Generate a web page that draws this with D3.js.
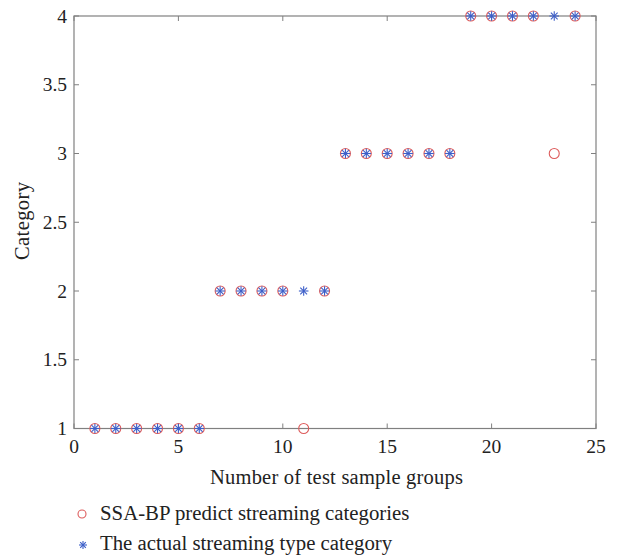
<!DOCTYPE html>
<html>
<head>
<meta charset="utf-8">
<script src="https://cdn.jsdelivr.net/npm/d3@7"></script>
<style>
  body { margin: 0; background: #fff; }
  svg text { font-family: "Liberation Serif", "DejaVu Serif", serif; fill: #222; }
</style>
</head>
<body>
<svg id="chart" width="618" height="557"></svg>
<script>
  const groups = d3.range(1, 25);
  const predicted = [1, 1, 1, 1, 1, 1, 2, 2, 2, 2, 1, 2, 3, 3, 3, 3, 3, 3, 4, 4, 4, 4, 3, 4];
  const actual = [1, 1, 1, 1, 1, 1, 2, 2, 2, 2, 2, 2, 3, 3, 3, 3, 3, 3, 4, 4, 4, 4, 4, 4];
  const xTicks = [0, 5, 10, 15, 20, 25];
  const yTicks = [1, 1.5, 2, 2.5, 3, 3.5, 4];
  const legendLabels = ["SSA-BP predict streaming categories", "The actual streaming type category"];

  const red = "#dd5c5c";
  const blue = "#3d5fc8";
  const plotLeft = 74, plotRight = 596, plotTop = 16, plotBottom = 428.5;

  const svg = d3.select("#chart");
  const x = d3.scaleLinear().domain([0, 25]).range([plotLeft, plotRight]);
  const y = d3.scaleLinear().domain([1, 4]).range([plotBottom, plotTop]);

  // box
  svg.append("rect")
    .attr("x", plotLeft).attr("y", plotTop)
    .attr("width", plotRight - plotLeft).attr("height", plotBottom - plotTop)
    .attr("fill", "none").attr("stroke", "#808080").attr("stroke-width", 1.2);

  // inward ticks on all four sides
  const tickLen = 5;
  const tickG = svg.append("g").attr("stroke", "#808080").attr("stroke-width", 1);
  xTicks.forEach((t) => {
    tickG.append("line").attr("x1", x(t)).attr("x2", x(t)).attr("y1", plotBottom).attr("y2", plotBottom - tickLen);
    tickG.append("line").attr("x1", x(t)).attr("x2", x(t)).attr("y1", plotTop).attr("y2", plotTop + tickLen);
  });
  yTicks.forEach((t) => {
    tickG.append("line").attr("x1", plotLeft).attr("x2", plotLeft + tickLen).attr("y1", y(t)).attr("y2", y(t));
    tickG.append("line").attr("x1", plotRight).attr("x2", plotRight - tickLen).attr("y1", y(t)).attr("y2", y(t));
  });

  svg.append("g").selectAll("text").data(xTicks).join("text")
    .attr("x", (d) => x(d)).attr("y", plotBottom + 24)
    .attr("text-anchor", "middle").attr("font-size", 19.5)
    .text((d) => d);

  svg.append("g").selectAll("text").data(yTicks).join("text")
    .attr("x", plotLeft - 7).attr("y", (d) => y(d) + 6.5)
    .attr("text-anchor", "end").attr("font-size", 19.5)
    .text((d) => d);

  svg.append("text")
    .attr("x", 210).attr("y", plotBottom + 55)
    .attr("font-size", 20.5)
    .attr("textLength", 253).attr("lengthAdjust", "spacing")
    .text("Number of test sample groups");

  svg.append("text")
    .attr("transform", "translate(29,260) rotate(-90)")
    .attr("font-size", 20.5)
    .attr("textLength", 78).attr("lengthAdjust", "spacing")
    .text("Category");

  function asterisk(g, r) {
    const d = r * Math.SQRT1_2;
    const segs = [[-r, 0, r, 0], [0, -r, 0, r], [-d, -d, d, d], [-d, d, d, -d]];
    segs.forEach((s) => {
      g.append("line").attr("x1", s[0]).attr("y1", s[1]).attr("x2", s[2]).attr("y2", s[3]);
    });
  }

  // predicted circles
  svg.append("g").selectAll("circle").data(groups).join("circle")
    .attr("cx", (d) => x(d)).attr("cy", (d, i) => y(predicted[i]))
    .attr("r", 5).attr("fill", "none").attr("stroke", red).attr("stroke-width", 1.1);

  // actual asterisks
  svg.append("g").selectAll("g").data(groups).join("g")
    .attr("transform", (d, i) => `translate(${x(d)},${y(actual[i])})`)
    .attr("stroke", blue).attr("stroke-width", 1.1)
    .each(function () { asterisk(d3.select(this), 4.8); });

  // legend
  const legend = svg.append("g");
  legend.append("circle").attr("cx", 82).attr("cy", 514).attr("r", 4)
    .attr("fill", "none").attr("stroke", red).attr("stroke-width", 1.1);
  const la = legend.append("g").attr("transform", "translate(83,545)")
    .attr("stroke", blue).attr("stroke-width", 1.1);
  asterisk(la, 4);
  legendLabels.forEach((label, i) => {
    legend.append("text").attr("x", 100).attr("y", 520 + i * 30)
      .attr("font-size", 20.8).text(label);
  });
</script>
</body>
</html>
